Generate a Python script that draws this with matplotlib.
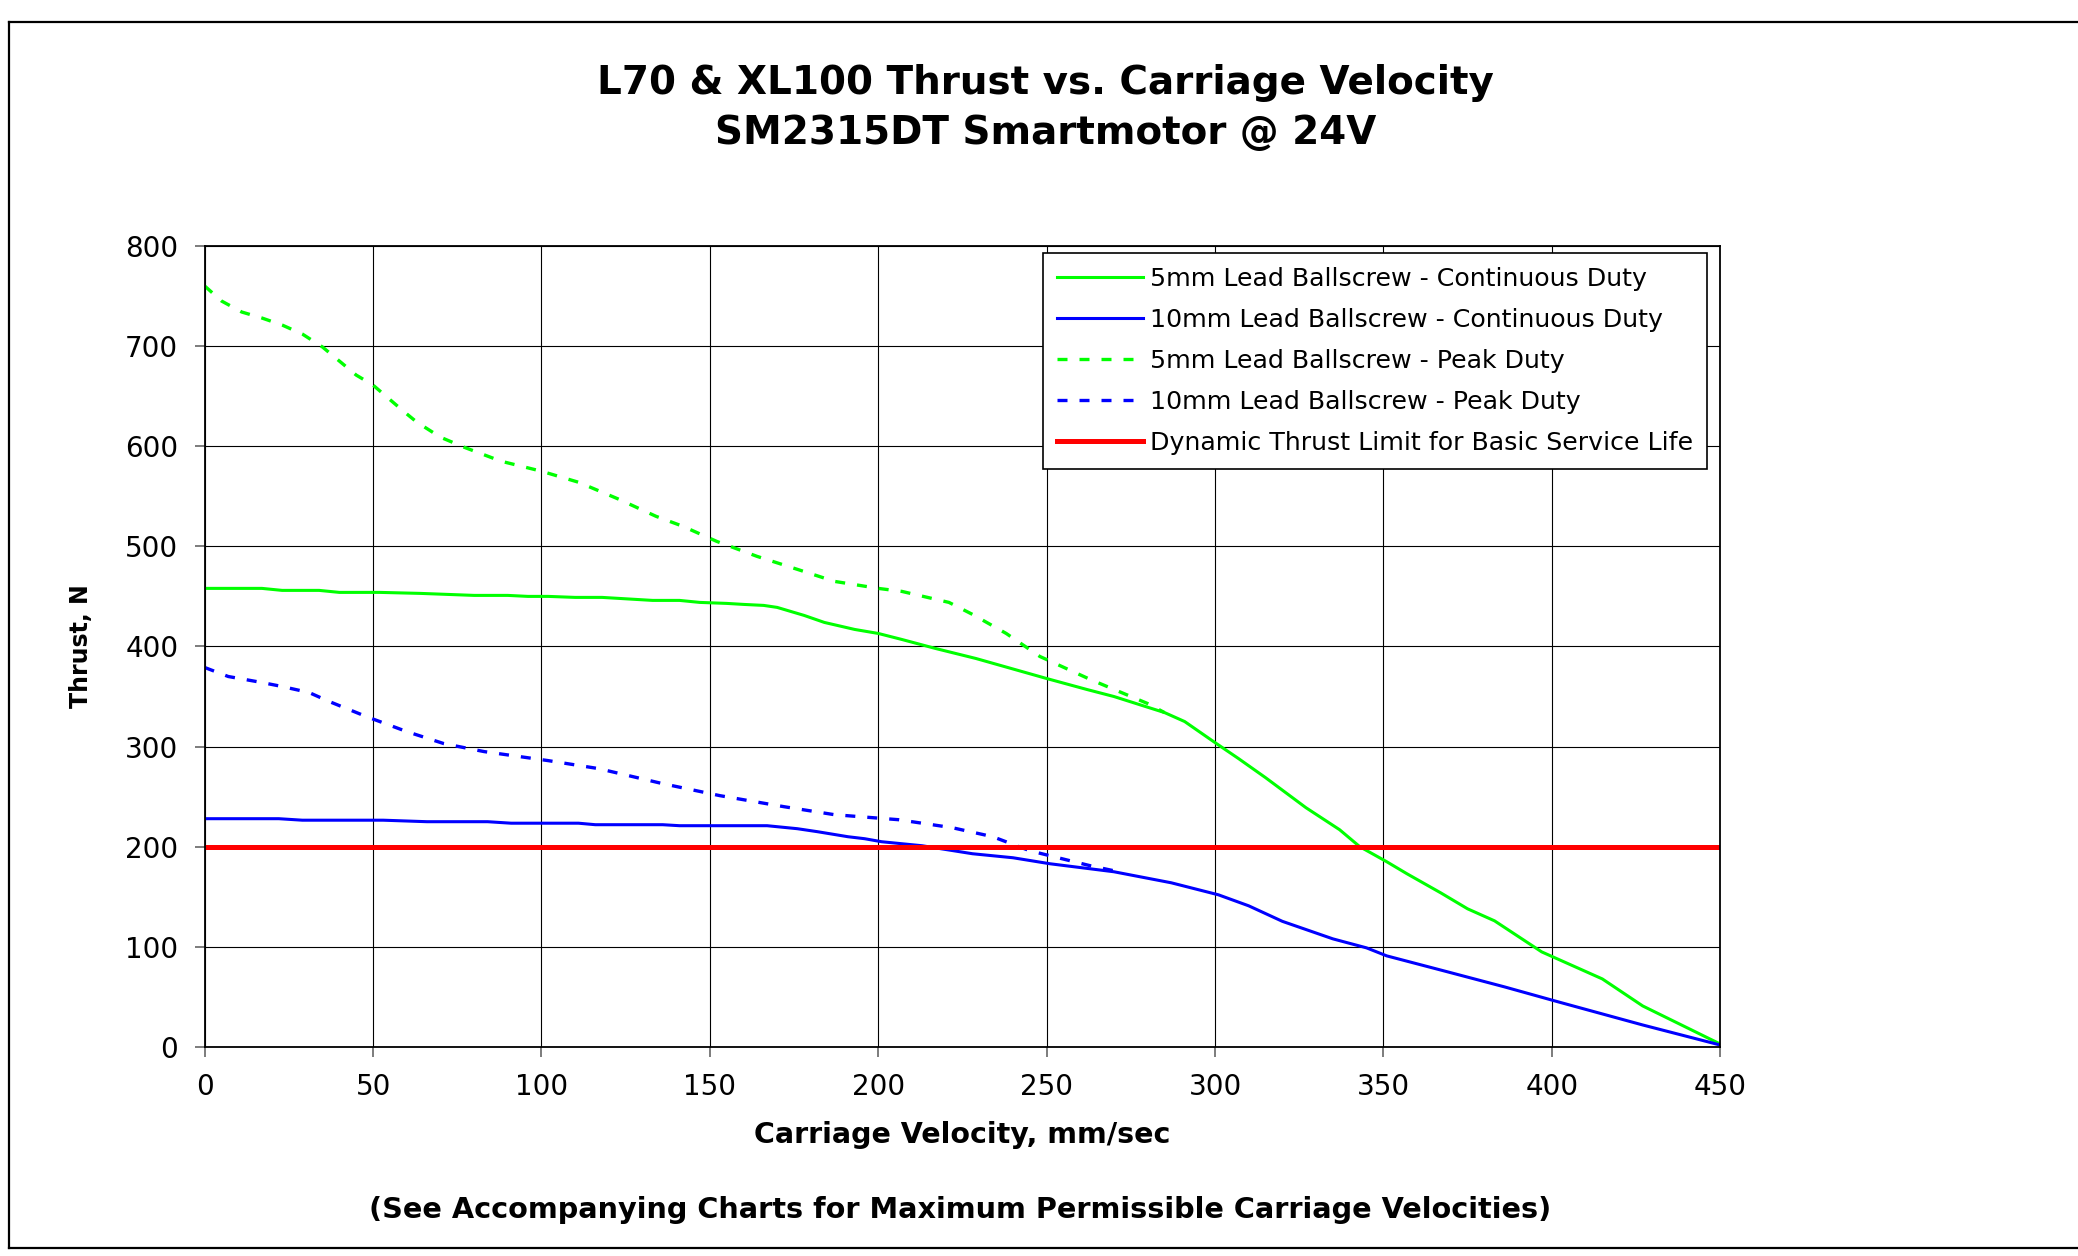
import matplotlib
matplotlib.use("Agg")
import matplotlib.pyplot as plt
from matplotlib.lines import Line2D

plt.rcParams['font.family'] = ['DejaVu Sans']

# 5mm lead ballscrew, continuous duty
v_5mm_cont = [0, 17, 23, 34, 40, 52, 64, 80, 90, 96, 102, 110, 118, 133, 141, 147,
              155, 160, 166, 170, 178, 184, 193, 200, 207, 217, 229, 250, 262, 270,
              285, 291, 300, 307, 315, 327, 337, 343, 351, 357, 367, 375, 383, 397,
              415, 427, 450]
t_5mm_cont = [458, 458, 456, 456, 454, 454, 453, 451, 451, 450, 450, 449, 449, 446, 446, 444,
              443, 442, 441, 439, 431, 424, 417, 413, 407, 398, 388, 368, 357, 350,
              334, 325, 304, 288, 269, 239, 217, 200, 185, 173, 154, 138, 126, 95,
              68, 41, 3]

# 10mm lead ballscrew, continuous duty
v_10mm_cont = [0, 22, 29, 53, 66, 84, 91, 111, 116, 136, 141, 167, 176, 182, 191, 196,
               201, 213, 228, 240, 251, 270, 287, 301, 310, 320, 335, 345, 351, 368,
               386, 402, 427, 450]
t_10mm_cont = [228, 228, 226.5, 226.5, 225, 225, 223.5, 223.5, 222, 222, 221, 221, 218, 215, 210, 208,
               205, 201, 193, 189, 183, 175, 164, 152, 141, 125.5, 108, 99, 91, 76,
               60, 45, 22, 2]

# 5mm lead ballscrew, peak duty
v_5mm_peak = [0, 5, 11, 17, 23, 29, 35, 45, 50, 59, 63, 70, 77, 88, 100, 111, 123, 134,
              142, 152, 164, 176, 187, 200, 207, 221, 228, 238, 248, 263, 280, 285]
t_5mm_peak = [760, 745, 734, 728, 721, 712, 699, 671, 661, 635, 624, 609, 599, 585, 575, 564, 547, 530,
              520, 505, 490, 477, 465, 458, 455, 444, 432, 413, 390, 367, 343, 334]

# 10mm lead ballscrew, peak duty
v_10mm_peak = [0, 7, 17, 23, 31, 37, 48, 60, 71, 83, 102, 117, 136, 153, 172, 187, 206,
               222, 234, 245, 251, 263, 270]
t_10mm_peak = [379, 370, 364, 360, 354, 345, 330, 315, 303, 295, 286, 278, 263, 251, 240, 232, 227,
               219, 210, 196, 191, 181, 176]

# dynamic thrust limit
v_limit = [0, 450]
t_limit = [200, 200]

labels = ["5mm Lead Ballscrew - Continuous Duty",
          "10mm Lead Ballscrew - Continuous Duty",
          "5mm Lead Ballscrew - Peak Duty",
          "10mm Lead Ballscrew - Peak Duty",
          "Dynamic Thrust Limit for Basic Service Life"]

fig = plt.figure(figsize=(20.78, 12.56), dpi=100)
ax = fig.add_axes([0.0985, 0.1664, 0.7293, 0.6378])

# outer chart frame (open on the right, like the source)
fig.add_artist(Line2D([0.0043, 1.0], [0.9825, 0.9825], transform=fig.transFigure, color='black', lw=1.6))
fig.add_artist(Line2D([0.0043, 1.0], [0.0064, 0.0064], transform=fig.transFigure, color='black', lw=1.6))
fig.add_artist(Line2D([0.0043, 0.0043], [0.0064, 0.9825], transform=fig.transFigure, color='black', lw=1.6))

green = '#00ff00'
blue = '#0000ff'
red = '#ff0000'
dash = (0, (3, 3.6))

ax.plot(v_5mm_cont, t_5mm_cont, color=green, lw=2.2, label=labels[0])
ax.plot(v_10mm_cont, t_10mm_cont, color=blue, lw=2.2, label=labels[1])
ax.plot(v_5mm_peak, t_5mm_peak, color=green, lw=2.4, linestyle=dash, label=labels[2])
ax.plot(v_10mm_peak, t_10mm_peak, color=blue, lw=2.4, linestyle=dash, label=labels[3])
ax.plot(v_limit, t_limit, color=red, lw=3.6, label=labels[4])

ax.set_xlim(0, 450)
ax.set_ylim(0, 800)
ax.set_xticks(range(0, 451, 50))
ax.set_yticks(range(0, 801, 100))
ax.grid(True, color='black', lw=0.8)
ax.set_axisbelow(True)
for sp in ax.spines.values():
    sp.set_color('black')
    sp.set_linewidth(1.3)
ax.tick_params(direction='out', length=7, width=1.2, color='#666666',
               labelsize=20, pad=12)

ax.set_xlabel("Carriage Velocity, mm/sec", fontsize=20.5, fontweight='bold')
ax.xaxis.set_label_coords(0.5, -0.092)
ax.set_ylabel("Thrust, N", fontsize=17, fontweight='bold')
ax.yaxis.set_label_coords(-0.074, 0.5)

fig.text(0.503, 0.934, "L70 & XL100 Thrust vs. Carriage Velocity",
         ha='center', va='center', fontsize=28, fontweight='bold')
fig.text(0.503, 0.894, "SM2315DT Smartmotor @ 24V",
         ha='center', va='center', fontsize=28, fontweight='bold')
fig.text(0.462, 0.0366, "(See Accompanying Charts for Maximum Permissible Carriage Velocities)",
         ha='center', va='center', fontsize=20.7, fontweight='bold')

leg = ax.legend(loc='upper left', bbox_to_anchor=(0.553, 0.991), fontsize=18.2,
                handlelength=3.4, handletextpad=0.3, labelspacing=0.67,
                borderpad=0.55, fancybox=False, framealpha=1, borderaxespad=0)
leg.get_frame().set_edgecolor('black')
leg.get_frame().set_linewidth(1.2)

fig.savefig("out.png", dpi=100)
